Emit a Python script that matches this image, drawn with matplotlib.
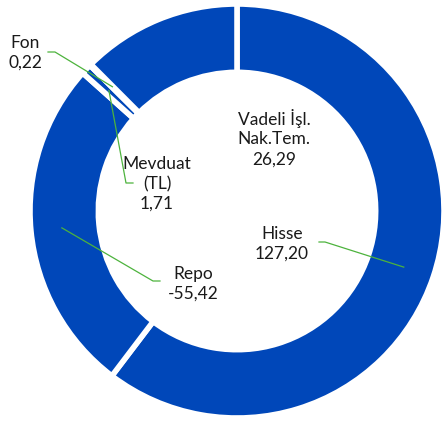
import numpy as np
import matplotlib.pyplot as plt

# data
names = ['Hisse', 'Repo', 'Mevduat\n(TL)', 'Fon', 'Vadeli İşl.\nNak.Tem.']
values = [127.20, -55.42, 1.71, 0.22, 26.29]

blue = '#0047B9'
green = '#4DB33D'

# pixel helpers (center of ring at 237,211, outer radius 207 px)
CX, CY, R = 237, 211, 207
def px(x, y):
    return ((x - CX) / R, (CY - y) / R)

# label text center, line elbow, line end near text (pixels)
label_pos = [(282, 244), (193, 284), (157, 184), (25, 53), (274, 138)]
elbows = [(325, 242), (153, 281), (126, 183), (55, 52), None]
ends = [(319, 242), (160, 281), (133, 183), (48, 52), None]

plt.rcParams['font.family'] = ['Lato', 'DejaVu Sans']
fig = plt.figure(figsize=(4.44, 4.21), dpi=100)
ax = fig.add_axes([0, 0, 1, 1])

wedges, _ = ax.pie([abs(v) for v in values], startangle=90, counterclock=False,
                   colors=[blue] * len(values), radius=1,
                   wedgeprops=dict(width=0.33, edgecolor='white', linewidth=4,
                                   joinstyle='bevel'))

for i, w in enumerate(wedges):
    txt = names[i] + '\n' + ('%.2f' % values[i]).replace('.', ',')
    tx, ty = px(*label_pos[i])
    ax.text(tx, ty, txt, ha='center', va='center', fontsize=12.5,
            color='#1a1a1a', linespacing=1.3)
    if elbows[i] is not None:
        mid = np.deg2rad((w.theta1 + w.theta2) / 2)
        ax0, ay0 = 0.85 * np.cos(mid), 0.85 * np.sin(mid)
        ex, ey = px(*elbows[i])
        nx, ny = px(*ends[i])
        ax.plot([ax0, ex, nx], [ay0, ey, ny], color=green, lw=0.9)

ax.set_xlim(-CX / R, (444 - CX) / R)
ax.set_ylim(-(421 - CY) / R, CY / R)
ax.set_aspect('equal')
ax.axis('off')
plt.savefig('out.png', dpi=100)
